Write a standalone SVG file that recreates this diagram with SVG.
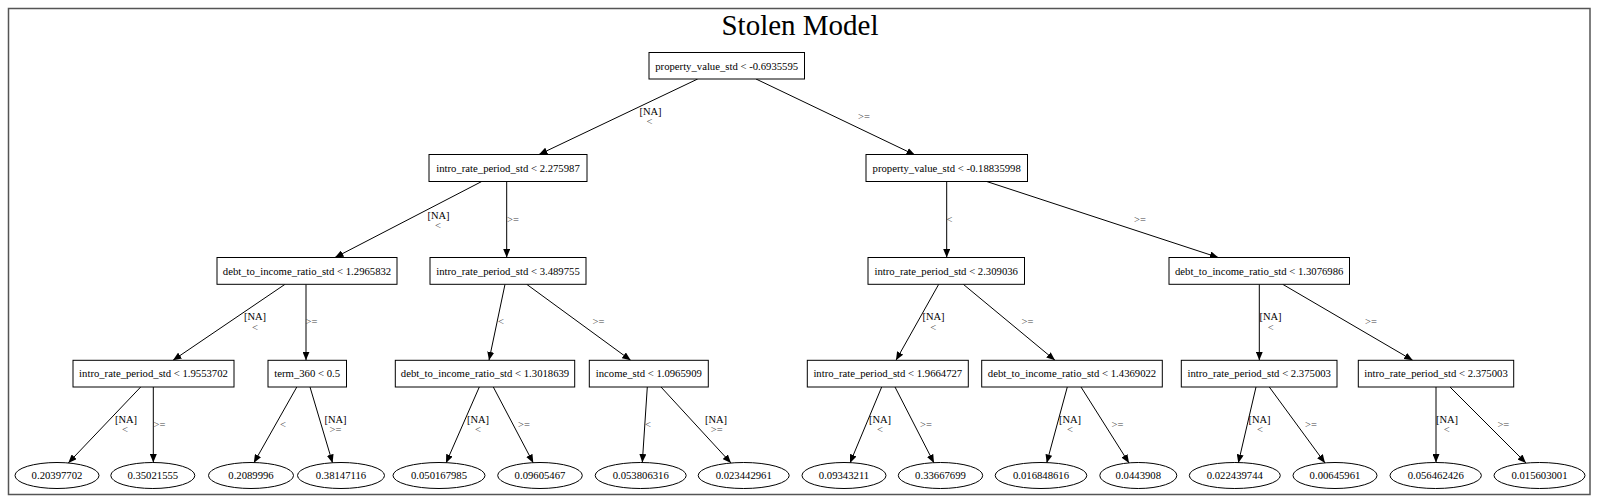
<svg xmlns="http://www.w3.org/2000/svg" width="1600" height="504" viewBox="0 0 1600 504">
<defs>
<marker id="ah" markerUnits="userSpaceOnUse" markerWidth="9" markerHeight="7" refX="8.5" refY="3.5" orient="auto">
<path d="M0,0 L8.5,3.5 L0,7 z" fill="#000"/>
</marker>
</defs>
<style>
.t{font-family:"Liberation Serif","Times New Roman",serif;font-size:10.7px;fill:#000;text-anchor:middle}
.lb{font-family:"Liberation Serif","Times New Roman",serif;font-size:10.5px;fill:#000;text-anchor:middle}
.op{font-family:"Liberation Serif","Times New Roman",serif;font-size:10.5px;fill:#444;text-anchor:middle}
.n rect,.n ellipse{fill:#fff;stroke:#000;stroke-width:1}
#edges line{stroke:#000;stroke-width:1;marker-end:url(#ah)}
</style>
<rect x="0" y="0" width="1600" height="504" fill="#fff"/>
<rect x="8.5" y="8.5" width="1581.5" height="486" fill="none" stroke="#555" stroke-width="1.5"/>
<text x="800" y="35" style="font-family:'Liberation Serif','Times New Roman',serif;font-size:29px;fill:#000;text-anchor:middle">Stolen Model</text>

<g id="edges">
<line x1="697.7" y1="79" x2="539" y2="154.5"/>
<line x1="756" y1="79" x2="915" y2="155"/>
<line x1="481.7" y1="181.5" x2="335" y2="257.5"/>
<line x1="506.7" y1="181.5" x2="506.7" y2="257.5"/>
<line x1="946.7" y1="181.5" x2="946.7" y2="257.5"/>
<line x1="986.7" y1="181.5" x2="1218.3" y2="257.5"/>
<line x1="285" y1="284.3" x2="173" y2="360.3"/>
<line x1="306" y1="284.3" x2="306" y2="360.3"/>
<line x1="505" y1="284.3" x2="489" y2="360.3"/>
<line x1="526.7" y1="284.3" x2="630.7" y2="360.3"/>
<line x1="938.7" y1="284.3" x2="896" y2="360.3"/>
<line x1="963.3" y1="284.3" x2="1055" y2="360.3"/>
<line x1="1259.3" y1="284.3" x2="1259.3" y2="360.3"/>
<line x1="1282.7" y1="284.3" x2="1412.7" y2="360.3"/>
<line x1="140.7" y1="387" x2="68.3" y2="463"/>
<line x1="153.3" y1="387" x2="153.3" y2="462.5"/>
<line x1="296.8" y1="387" x2="253.8" y2="463"/>
<line x1="310" y1="387" x2="332.6" y2="463"/>
<line x1="479.3" y1="387" x2="446" y2="463"/>
<line x1="493.3" y1="387" x2="533.3" y2="463"/>
<line x1="647.3" y1="387" x2="642.3" y2="462.5"/>
<line x1="661" y1="387" x2="731" y2="463"/>
<line x1="881.7" y1="387" x2="850" y2="463"/>
<line x1="895" y1="387" x2="934" y2="463"/>
<line x1="1067.3" y1="387" x2="1046.7" y2="463"/>
<line x1="1081" y1="387" x2="1129" y2="463"/>
<line x1="1256" y1="387" x2="1238.3" y2="463"/>
<line x1="1269.3" y1="387" x2="1325" y2="463"/>
<line x1="1436" y1="387" x2="1436" y2="462.5"/>
<line x1="1450" y1="387" x2="1526" y2="463"/>
<!-- edge labels -->
<text class="lb" x="650.5" y="114.5">[NA]</text><text class="op" x="649.5" y="125">&lt;</text>
<text class="op" x="864" y="120">&gt;=</text>
<text class="lb" x="438.5" y="218.5">[NA]</text><text class="op" x="438" y="228.5">&lt;</text>
<text class="op" x="513" y="222.5">&gt;=</text>
<text class="op" x="949.5" y="222.5">&lt;</text>
<text class="op" x="1140" y="222.5">&gt;=</text>
<text class="lb" x="255" y="320">[NA]</text><text class="op" x="255" y="330.5">&lt;</text>
<text class="op" x="311.5" y="325">&gt;=</text>
<text class="op" x="501" y="325">&lt;</text>
<text class="op" x="598.5" y="325">&gt;=</text>
<text class="lb" x="933.5" y="320">[NA]</text><text class="op" x="933.3" y="330.5">&lt;</text>
<text class="op" x="1027.5" y="325">&gt;=</text>
<text class="lb" x="1270.5" y="320">[NA]</text><text class="op" x="1270.7" y="330.5">&lt;</text>
<text class="op" x="1371" y="325">&gt;=</text>
<text class="lb" x="126" y="422.5">[NA]</text><text class="op" x="125" y="433">&lt;</text>
<text class="op" x="159.5" y="427.5">&gt;=</text>
<text class="op" x="283" y="427.5">&lt;</text>
<text class="lb" x="335.5" y="422.5">[NA]</text><text class="op" x="335.5" y="433">&gt;=</text>
<text class="lb" x="478" y="422.5">[NA]</text><text class="op" x="478" y="433">&lt;</text>
<text class="op" x="524" y="427.5">&gt;=</text>
<text class="op" x="648" y="427.5">&lt;</text>
<text class="lb" x="716" y="422.5">[NA]</text><text class="op" x="716.7" y="433">&gt;=</text>
<text class="lb" x="880" y="422.5">[NA]</text><text class="op" x="880" y="433">&lt;</text>
<text class="op" x="926" y="427.5">&gt;=</text>
<text class="lb" x="1070" y="422.5">[NA]</text><text class="op" x="1070" y="433">&lt;</text>
<text class="op" x="1117.5" y="427.5">&gt;=</text>
<text class="lb" x="1259.5" y="422.5">[NA]</text><text class="op" x="1260" y="433">&lt;</text>
<text class="op" x="1311" y="427.5">&gt;=</text>
<text class="lb" x="1447" y="422.5">[NA]</text><text class="op" x="1446.7" y="433">&lt;</text>
<text class="op" x="1503.3" y="427.5">&gt;=</text>
</g>

<g id="n0" class="n"><rect x="649" y="52.5" width="155.5" height="26.5"/><text class="t" x="726.7" y="69.5">property_value_std &lt; -0.6935595</text></g>
<g id="n1" class="n"><rect x="429" y="154.5" width="158" height="27"/><text class="t" x="508" y="171.6">intro_rate_period_std &lt; 2.275987</text></g>
<g id="n2" class="n"><rect x="866" y="154.5" width="161.5" height="27"/><text class="t" x="946.7" y="171.6">property_value_std &lt; -0.18835998</text></g>
<g id="n3" class="n"><rect x="217" y="257.5" width="180" height="26.8"/><text class="t" x="307" y="274.6">debt_to_income_ratio_std &lt; 1.2965832</text></g>
<g id="n4" class="n"><rect x="430" y="257.5" width="156" height="26.8"/><text class="t" x="508" y="274.6">intro_rate_period_std &lt; 3.489755</text></g>
<g id="n5" class="n"><rect x="868" y="257.5" width="156.5" height="26.8"/><text class="t" x="946.2" y="274.6">intro_rate_period_std &lt; 2.309036</text></g>
<g id="n6" class="n"><rect x="1169" y="257.5" width="180.5" height="26.8"/><text class="t" x="1259.2" y="274.6">debt_to_income_ratio_std &lt; 1.3076986</text></g>
<g id="n7" class="n"><rect x="73" y="360.3" width="161" height="26.7"/><text class="t" x="153.5" y="377.3">intro_rate_period_std &lt; 1.9553702</text></g>
<g id="n8" class="n"><rect x="268" y="360.3" width="78.5" height="26.7"/><text class="t" x="307.2" y="377.3">term_360 &lt; 0.5</text></g>
<g id="n9" class="n"><rect x="395.3" y="360.3" width="179.4" height="26.7"/><text class="t" x="485" y="377.3">debt_to_income_ratio_std &lt; 1.3018639</text></g>
<g id="n10" class="n"><rect x="589.3" y="360.3" width="119" height="26.7"/><text class="t" x="648.8" y="377.3">income_std &lt; 1.0965909</text></g>
<g id="n11" class="n"><rect x="807.3" y="360.3" width="161" height="26.7"/><text class="t" x="887.8" y="377.3">intro_rate_period_std &lt; 1.9664727</text></g>
<g id="n12" class="n"><rect x="981.7" y="360.3" width="180.6" height="26.7"/><text class="t" x="1072" y="377.3">debt_to_income_ratio_std &lt; 1.4369022</text></g>
<g id="n13" class="n"><rect x="1181.3" y="360.3" width="155.7" height="26.7"/><text class="t" x="1259.2" y="377.3">intro_rate_period_std &lt; 2.375003</text></g>
<g id="n14" class="n"><rect x="1358.3" y="360.3" width="155.4" height="26.7"/><text class="t" x="1436" y="377.3">intro_rate_period_std &lt; 2.375003</text></g>

<g id="l1" class="n"><ellipse cx="57" cy="475.5" rx="42" ry="13"/><text class="t" x="57" y="479.2">0.20397702</text></g>
<g id="l2" class="n"><ellipse cx="152.8" cy="475.5" rx="42" ry="13"/><text class="t" x="152.8" y="479.2">0.35021555</text></g>
<g id="l3" class="n"><ellipse cx="251" cy="475.5" rx="42.5" ry="13"/><text class="t" x="251" y="479.2">0.2089996</text></g>
<g id="l4" class="n"><ellipse cx="341" cy="475.5" rx="43.5" ry="13"/><text class="t" x="341" y="479.2">0.38147116</text></g>
<g id="l5" class="n"><ellipse cx="439" cy="475.5" rx="46" ry="13"/><text class="t" x="439" y="479.2">0.050167985</text></g>
<g id="l6" class="n"><ellipse cx="540" cy="475.5" rx="42.3" ry="13"/><text class="t" x="540" y="479.2">0.09605467</text></g>
<g id="l7" class="n"><ellipse cx="640.7" cy="475.5" rx="45.5" ry="13"/><text class="t" x="640.7" y="479.2">0.053806316</text></g>
<g id="l8" class="n"><ellipse cx="743.7" cy="475.5" rx="45.5" ry="13"/><text class="t" x="743.7" y="479.2">0.023442961</text></g>
<g id="l9" class="n"><ellipse cx="844" cy="475.5" rx="42" ry="13"/><text class="t" x="844" y="479.2">0.09343211</text></g>
<g id="l10" class="n"><ellipse cx="940.5" cy="475.5" rx="42.2" ry="13"/><text class="t" x="940.5" y="479.2">0.33667699</text></g>
<g id="l11" class="n"><ellipse cx="1041" cy="475.5" rx="45.8" ry="13"/><text class="t" x="1041" y="479.2">0.016848616</text></g>
<g id="l12" class="n"><ellipse cx="1138.3" cy="475.5" rx="38.5" ry="13"/><text class="t" x="1138.3" y="479.2">0.0443908</text></g>
<g id="l13" class="n"><ellipse cx="1234.8" cy="475.5" rx="45.5" ry="13"/><text class="t" x="1234.8" y="479.2">0.022439744</text></g>
<g id="l14" class="n"><ellipse cx="1335" cy="475.5" rx="42" ry="13"/><text class="t" x="1335" y="479.2">0.00645961</text></g>
<g id="l15" class="n"><ellipse cx="1435.7" cy="475.5" rx="45.7" ry="13"/><text class="t" x="1435.7" y="479.2">0.056462426</text></g>
<g id="l16" class="n"><ellipse cx="1539.5" cy="475.5" rx="45.5" ry="13"/><text class="t" x="1539.5" y="479.2">0.015603001</text></g>
</svg>
